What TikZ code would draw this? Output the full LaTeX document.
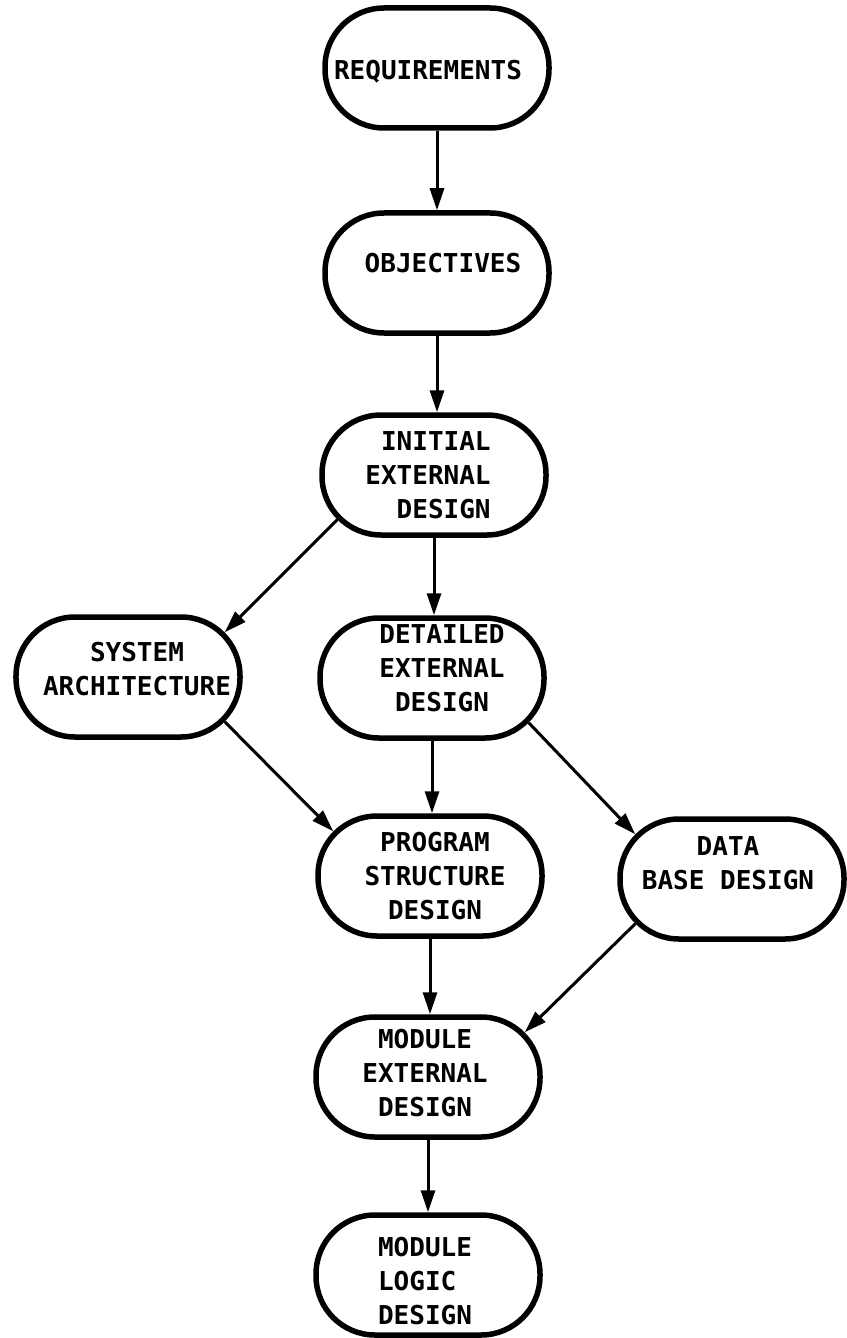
\documentclass[tikz,border=0pt]{standalone}
\usepackage{fontspec}
\newfontfamily\lblfont{DejaVu Sans Mono}
\usetikzlibrary{arrows.meta,calc}
\tikzset{
  nd/.style={draw, line width=5.5bp, rounded corners=59bp, minimum width=224bp, minimum height=120bp, inner sep=0pt},
  txt/.style={font=\lblfont\bfseries\fontsize{26bp}{34bp}\selectfont, inner sep=0pt},
  arr/.style={line width=3bp, -{Triangle[length=22bp,width=14bp]}},
}
\begin{document}
\begin{tikzpicture}[x=1bp,y=-1bp]
\useasboundingbox (0,0) rectangle (846,1338);
\node[nd, label={[txt,align=center,xshift=-9bp,yshift=-4bp]center:REQUIREMENTS}] (req) at (437,68) {};
\node[nd, label={[txt,align=center,xshift=6bp,yshift=10bp]center:OBJECTIVES}] (obj) at (437,273) {};
\node[nd, label={[txt,align=right,xshift=-6bp]center:{INITIAL\\EXTERNAL\\DESIGN}}] (ied) at (434,475) {};
\node[nd, label={[txt,align=center,xshift=10bp,yshift=10bp]center:{DETAILED\\EXTERNAL\\DESIGN}}] (det) at (432,678) {};
\node[nd, label={[txt,align=center,xshift=9bp,yshift=8bp]center:{SYSTEM\\ARCHITECTURE}}] (sa) at (128,677) {};
\node[nd, label={[txt,align=center,xshift=5bp]center:{PROGRAM\\STRUCTURE\\DESIGN}}] (psd) at (430,876) {};
\node[nd, label={[txt,align=center,xshift=-4bp,yshift=16bp]center:{DATA\\BASE DESIGN}}] (db) at (732,879) {};
\node[nd, label={[txt,align=center,xshift=-3bp,yshift=4bp]center:{MODULE\\EXTERNAL\\DESIGN}}] (med) at (428,1077) {};
\node[nd, label={[txt,align=left,xshift=-3bp,yshift=-6bp]center:{MODULE\\LOGIC\\DESIGN}}] (mld) at (428,1275) {};

\draw[arr] (req.south) -- (req.south |- obj.north);
\draw[arr] (obj.south) -- (obj.south |- ied.north);
\draw[arr] (ied.south) -- (ied.south |- det.north);
\draw[arr] (det.south) -- (det.south |- psd.north);
\draw[arr] (psd.south) -- (psd.south |- med.north);
\draw[arr] (med.south) -- (med.south |- mld.north);
\draw[arr] ([shift={(18,-18)}]ied.south west) -- ([shift={(-18,18)}]sa.north east);
\draw[arr] ([shift={(-18,-18)}]sa.south east) -- ([shift={(18,18)}]psd.north west);
\draw[arr] ([shift={(-18,-18)}]det.south east) -- ([shift={(18,18)}]db.north west);
\draw[arr] ([shift={(18,-18)}]db.south west) -- ([shift={(-18,18)}]med.north east);
\end{tikzpicture}
\end{document}
